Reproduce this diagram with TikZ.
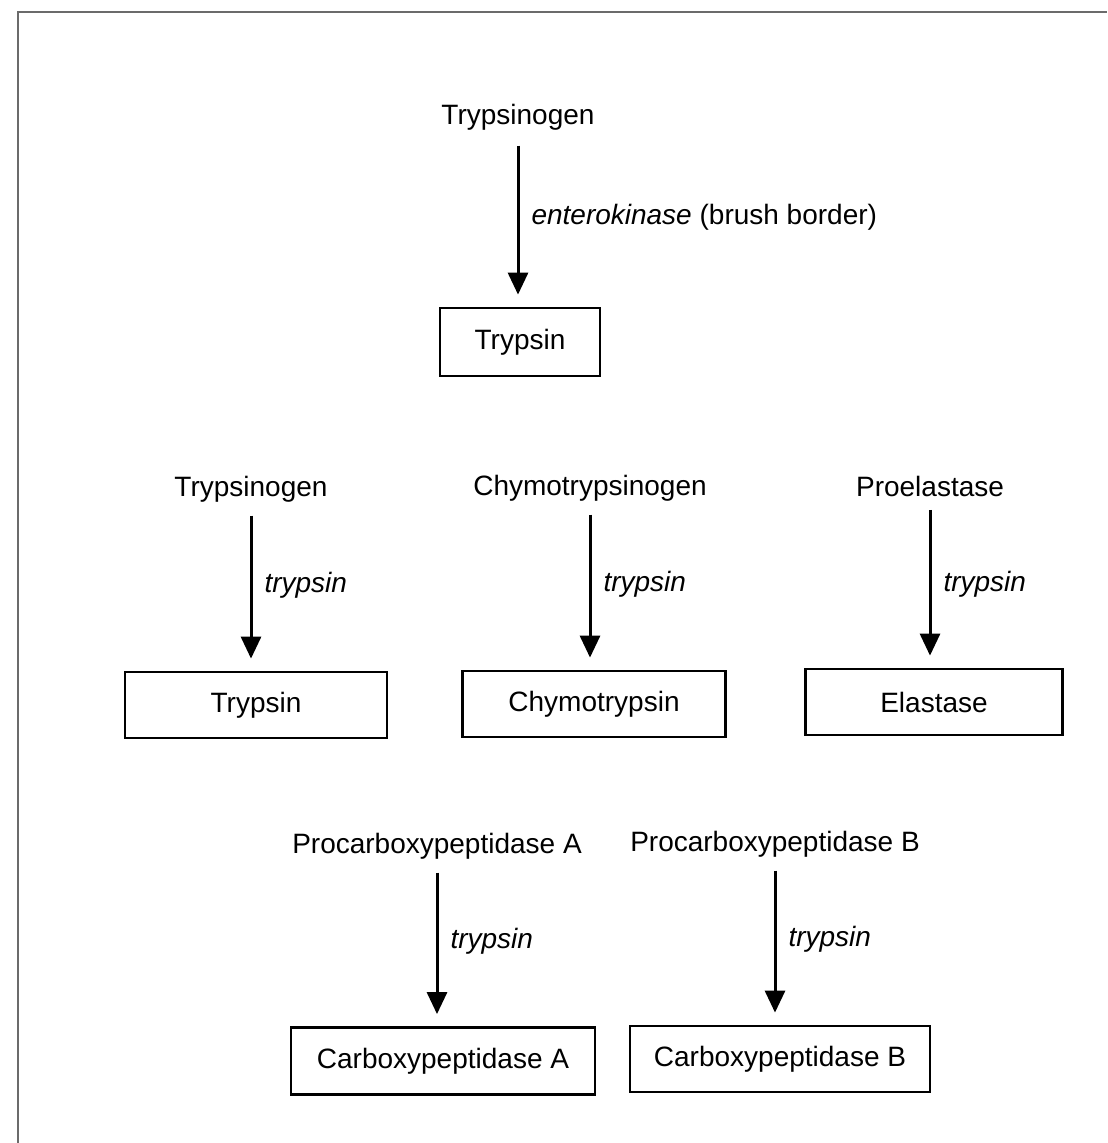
\documentclass[tikz,border=0pt]{standalone}
\usepackage{fontspec}
\setmainfont{Liberation Sans}
\usepackage{xcolor}
\definecolor{frame-gray}{HTML}{6b6b6b}
\usetikzlibrary{arrows.meta,positioning,calc}
\tikzset{
    -{Triangle[width=10pt,length=11pt]},
    font=\fontsize{14}{17}\selectfont,
    enzyme/.style={rectangle, draw, line width=1.4pt, minimum height=33pt, inner sep=0pt},
    zymogen/.style={inner sep=0pt},
    el/.style={inner sep=0pt, right=6pt, yshift=1pt}
}

\begin{document}
\begin{tikzpicture}[x=0.5pt, y=-0.5pt, line width=1.5pt]
  \useasboundingbox (0,0) rectangle (1107,1143);
  \draw[-, frame-gray, line width=1.2pt] (18,1143) -- (18,12) -- (1107,12);

  \node[zymogen] (trypsinogen) at (518,117) {Trypsinogen};
  \node[enzyme, minimum width=80pt, minimum height=34pt] (trypsin) at (520,342) {Trypsin};

  \node[zymogen] (trypsinogen2) at (251,489) {Trypsinogen};
  \node[enzyme, minimum width=131pt] (trypsin2) at (256,705) {Trypsin};

  \node[zymogen] (chymotrypsinogen) at (590,488) {Chymotrypsinogen};
  \node[enzyme, minimum width=131.5pt] (chymotrypsin) at (594,704) {Chymotrypsin};

  \node[zymogen] (proelastase) at (930,486) {Proelastase};
  \node[enzyme, minimum width=128.5pt] (elastase) at (934,702) {Elastase};

  \node[zymogen] (procarboxy-a) at (437,846) {Procarboxypeptidase A};
  \node[enzyme, minimum width=152pt, minimum height=33.5pt] (carboxy-a) at (443,1061) {Carboxypeptidase A};

  \node[zymogen] (procarboxy-b) at (775,844) {Procarboxypeptidase B};
  \node[enzyme, minimum width=150pt] (carboxy-b) at (780,1059) {Carboxypeptidase B};

  \path[shorten <=7pt, shorten >=6pt] (trypsinogen.south) edge node[el] {\textit{enterokinase} (brush border)} (trypsinogen.south |- trypsin.north);
  \path[shorten <=6pt, shorten >=6pt] (trypsinogen2.south) edge node[el] {\textit{trypsin}} (trypsinogen2.south |- trypsin2.north);
  \path[shorten <=6pt, shorten >=6pt] (chymotrypsinogen.south) edge node[el] {\textit{trypsin}} (chymotrypsinogen.south |- chymotrypsin.north);
  \path[shorten <=6pt, shorten >=6pt] (proelastase.south) edge node[el, yshift=-2pt] {\textit{trypsin}} (proelastase.south |- elastase.north);
  \path[shorten <=6pt, shorten >=6pt] (procarboxy-a.south) edge node[el] {\textit{trypsin}} (procarboxy-a.south |- carboxy-a.north);
  \path[shorten <=6pt, shorten >=6pt] (procarboxy-b.south) edge node[el] {\textit{trypsin}} (procarboxy-b.south |- carboxy-b.north);
\end{tikzpicture}
\end{document}
